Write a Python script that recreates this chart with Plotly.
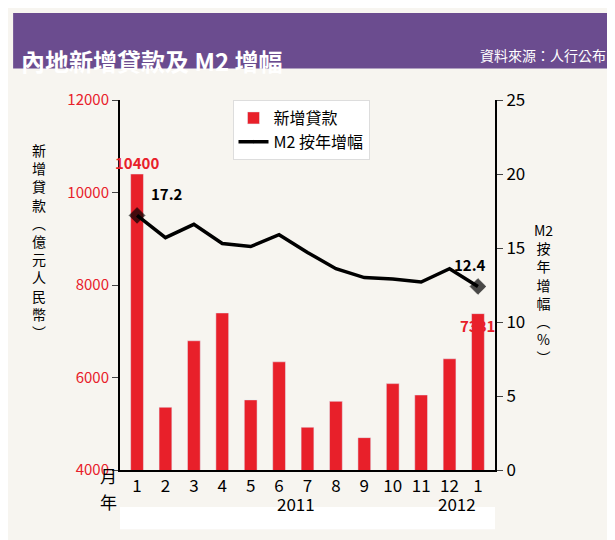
import plotly.graph_objects as go

months = ["1","2","3","4","5","6","7","8","9","10","11","12","1"]
loans = [10400,5357,6794,7396,5516,6339,4925,5485,4700,5868,5622,6405,7381]
m2 = [17.2,15.7,16.6,15.3,15.1,15.9,14.7,13.6,13.0,12.9,12.7,13.6,12.4]
msize = [12,0,0,0,0,0,0,0,0,0,0,0,12]
xs = list(range(len(months)))

RED = "#e8202a"
F = "Noto Sans CJK TC"
fig = go.Figure()
fig.add_bar(x=xs, y=loans, name="新增貸款", marker_color=RED, width=0.45, yaxis="y")
fig.add_scatter(x=xs, y=m2, name="M2 按年增幅", yaxis="y2", mode="lines+markers",
                line=dict(color="black", width=3.5),
                marker=dict(symbol="diamond", size=msize, color="black", line=dict(color="black", width=1)))
fig.update_layout(
    width=615, height=540, margin=dict(l=112, r=128, t=92, b=78),
    paper_bgcolor="#f7f5f0", plot_bgcolor="#f7f5f0", font=dict(family=F, size=15, color="black"),
    showlegend=True,
    legend=dict(x=0.3, y=1.0, xanchor="left", yanchor="top", bgcolor="white", bordercolor="#dddddd", borderwidth=1, font=dict(size=16)),
    xaxis=dict(showline=True, linecolor="black", linewidth=2, ticks="", tickfont=dict(size=17), range=[-0.6, 12.6],
               tickvals=xs, ticktext=months, showgrid=False, zeroline=False),
    yaxis=dict(range=[4000,12000], dtick=2000, tickformat="d", showline=True, linecolor="black", linewidth=2, ticks="outside", ticklen=6,
               showgrid=False, tickfont=dict(color=RED, size=15), zeroline=False),
    yaxis2=dict(range=[0,25], dtick=5, overlaying="y", side="right", showline=True, linecolor="black", linewidth=2,
                ticks="outside", ticklen=6, showgrid=False, tickfont=dict(size=17), zeroline=False),
)
fig.add_shape(type="rect", xref="paper", yref="paper", x0=-0.285, x1=1.32, y0=1.085, y1=1.235, fillcolor="#6b4c8f", line_width=0, layer="below")
fig.add_annotation(xref="paper", yref="paper", x=-0.27, y=1.16, text="<b>內地新增貸款及 M2 增幅</b>", showarrow=False, xanchor="left", font=dict(color="white", size=24))
fig.add_annotation(xref="paper", yref="paper", x=1.3, y=1.155, text="資料來源：人行公布", showarrow=False, xanchor="right", font=dict(color="white", size=14))
fig.add_shape(type="rect", xref="paper", yref="paper", x0=0.0, x1=1.0, y0=-0.16, y1=-0.1, fillcolor="white", line_width=0, layer="below")
fig.add_annotation(xref="paper", yref="paper", x=0.47, y=-0.13, text="2011", showarrow=False, font=dict(size=17))
fig.add_annotation(xref="paper", yref="paper", x=0.955, y=-0.13, text="2012", showarrow=False, font=dict(size=17))
fig.add_annotation(xref="paper", yref="paper", x=-0.06, y=-0.055, text="月", showarrow=False, font=dict(size=17))
fig.add_annotation(xref="paper", yref="paper", x=-0.06, y=-0.125, text="年", showarrow=False, font=dict(size=17))
fig.add_annotation(xref="paper", yref="paper", x=-0.24, y=0.62, text="新<br>增<br>貸<br>款<br>︵<br>億<br>元<br>人<br>民<br>幣<br>︶", showarrow=False, font=dict(size=14), align="center")
fig.add_annotation(xref="paper", yref="paper", x=1.16, y=0.68, text="M2<br>按<br>年<br>增<br>幅<br>︵<br>%<br>︶", showarrow=False, font=dict(size=14), align="center")
fig.add_annotation(x=xs[0], y=loans[0], text="<b>10400</b>", showarrow=False, yshift=12, font=dict(color=RED, size=15))
fig.add_annotation(x=xs[-1], y=loans[-1], text="<b>7381</b>", showarrow=False, yshift=-12, font=dict(color=RED, size=15))
fig.add_annotation(x=xs[0], y=m2[0], yref="y2", text="<b>17.2</b>", showarrow=False, xshift=30, yshift=22, font=dict(size=15))
fig.add_annotation(x=xs[-1], y=m2[-1], yref="y2", text="<b>12.4</b>", showarrow=False, xshift=-8, yshift=22, font=dict(size=15))
fig.write_html("out.html")
